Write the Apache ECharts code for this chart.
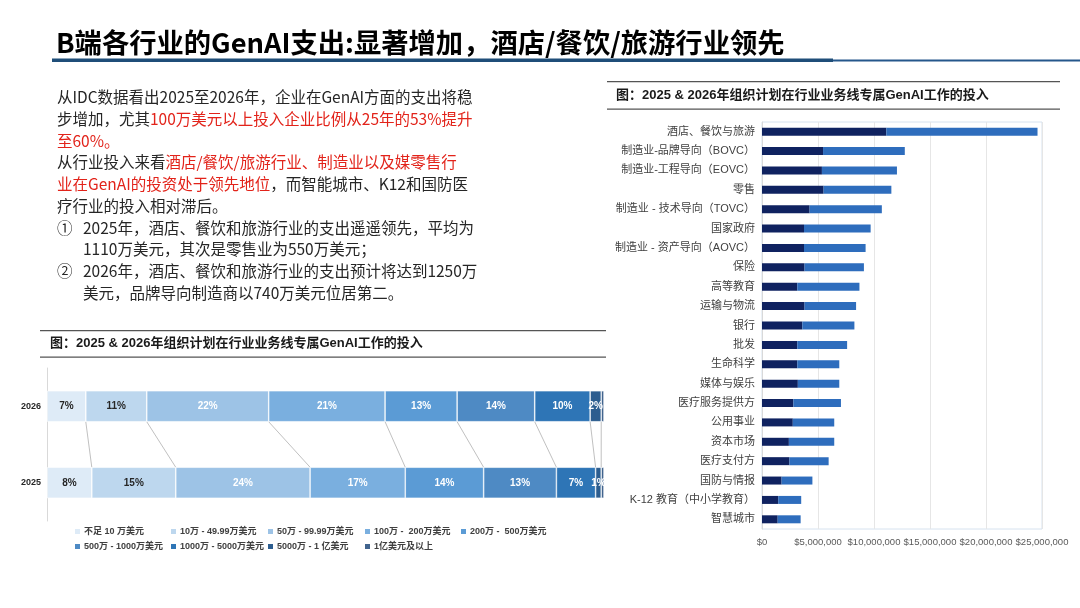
<!DOCTYPE html>
<html>
<head>
<meta charset="utf-8">
<title>B端各行业的GenAI支出</title>
<script src="https://cdn.jsdelivr.net/npm/echarts@6/dist/echarts.min.js"></script>
<style>
  html, body { margin: 0; padding: 0; background: #fff; }
  #main { width: 1080px; height: 608px; }
</style>
</head>
<body>
<div id="main"></div>
<script>
// ---- left chart: share of spend bands ----
var years = ['2025', '2026'];
var bands = ['不足 10 万美元', '10万 - 49.99万美元', '50万 - 99.99万美元', '100万 -  200万美元', '200万 -  500万美元',
  '500万 - 1000万美元', '1000万 - 5000万美元', '5000万 - 1 亿美元', '1亿美元及以上'];
var share2025 = [8, 15, 24, 17, 14, 13, 7, 1, 0.5];
var share2026 = [7, 11, 22, 21, 13, 14, 10, 2, 0.5];

// ---- right chart: spend per industry (USD) ----
var industries = ['酒店、餐饮与旅游', '制造业-品牌导向（BOVC）', '制造业-工程导向（EOVC）', '零售',
  '制造业 - 技术导向（TOVC）', '国家政府', '制造业 - 资产导向（AOVC）', '保险', '高等教育', '运输与物流',
  '银行', '批发', '生命科学', '媒体与娱乐', '医疗服务提供方', '公用事业', '资本市场', '医疗支付方',
  '国防与情报', 'K-12 教育（中小学教育）', '智慧城市'];
var spend2025 = [11100000, 5450000, 5350000, 5500000, 4250000, 3750000, 3750000, 3800000, 3150000, 3800000,
  3600000, 3150000, 3150000, 3200000, 2800000, 2750000, 2400000, 2450000, 1750000, 1450000, 1400000];
var spend2026 = [13500000, 7300000, 6700000, 6050000, 6450000, 5950000, 5500000, 5300000, 5550000, 4600000,
  4650000, 4450000, 3750000, 3700000, 4250000, 3700000, 4050000, 3500000, 2750000, 2050000, 2050000];
var xTicks = [0, 5000000, 10000000, 15000000, 20000000, 25000000];

var bandColors = ['#deebf7', '#bdd7ee', '#9dc3e6', '#7aafdf', '#5b9bd5', '#4e8ac4', '#2e75b6', '#2c5d8f', '#41648e'];
var chartFont = "'Liberation Sans', 'Noto Sans CJK SC', sans-serif";
var cjkFont = "'Noto Sans CJK SC', sans-serif";
var red = '#e2231a';
var barH = 31;

function sum(arr) {
  var s = 0;
  for (var i = 0; i < arr.length; i++) s += arr[i];
  return s;
}
var tot25 = sum(share2025);
var tot26 = sum(share2026);

// stacked band series (normalised to 100%)
var series = [];
bands.forEach(function (name, i) {
  series.push({
    name: name,
    type: 'bar',
    stack: 'share',
    xAxisIndex: 0,
    yAxisIndex: 0,
    barWidth: barH,
    itemStyle: { color: bandColors[i], borderColor: '#fff', borderWidth: 0.6 },
    label: {
      show: i < 8,
      position: 'inside',
      fontSize: 10,
      fontWeight: 'bold',
      fontFamily: chartFont,
      color: i < 2 ? '#262626' : '#fff',
      formatter: function (p) { return p.data.raw + '%'; }
    },
    data: [
      { value: share2025[i] / tot25 * 100, raw: share2025[i] },
      { value: share2026[i] / tot26 * 100, raw: share2026[i] }
    ]
  });
});

// series lines joining segment edges
var joins = [];
var c25 = 0, c26 = 0;
for (var i = 0; i < bands.length - 1; i++) {
  c25 += share2025[i] / tot25 * 100;
  c26 += share2026[i] / tot26 * 100;
  joins.push([c26, c25, 0]);
}
series.push({
  type: 'custom',
  xAxisIndex: 0,
  yAxisIndex: 0,
  encode: { x: [0, 1], y: 2 },
  silent: true,
  z: 1,
  renderItem: function (params, api) {
    var top = api.coord([api.value(0), 1]);
    var bot = api.coord([api.value(1), 0]);
    return {
      type: 'line',
      shape: { x1: top[0], y1: top[1] + barH / 2, x2: bot[0], y2: bot[1] - barH / 2 },
      style: { stroke: '#b0b0b0', lineWidth: 0.8 }
    };
  },
  data: joins
});

// right chart stacked bars
series.push({
  name: '2025',
  type: 'bar',
  stack: 'ind',
  xAxisIndex: 1,
  yAxisIndex: 1,
  barWidth: 8,
  itemStyle: { color: '#0f2260' },
  data: spend2025
});
series.push({
  name: '2026',
  type: 'bar',
  stack: 'ind',
  xAxisIndex: 1,
  yAxisIndex: 1,
  barWidth: 8,
  itemStyle: { color: '#2e6dbd' },
  data: spend2026
});

// legends laid out as a grid
var legendPos = [[73, 527], [169, 527], [266, 527], [363, 527], [459, 527],
  [73, 542], [169, 542], [266, 542], [363, 542]];
var legends = bands.map(function (b, i) {
  return {
    data: [b],
    left: legendPos[i][0],
    top: legendPos[i][1],
    padding: 0,
    itemWidth: 7,
    itemHeight: 7,
    itemGap: 0,
    icon: 'rect',
    selectedMode: false,
    textStyle: { fontSize: 9, fontWeight: 'bold', color: '#404040', fontFamily: chartFont, padding: [0, 0, 0, -2] }
  };
});

// slide text
function textLine(x, y, txt) {
  return {
    type: 'text',
    x: x,
    y: y,
    style: {
      text: txt,
      fill: '#262626',
      fontSize: 15.5,
      fontFamily: cjkFont,
      verticalAlign: 'middle',
      rich: { r: { fill: red, fontSize: 15.5, fontFamily: cjkFont } }
    }
  };
}
var bodyLines = [
  [57, '从IDC数据看出2025至2026年，企业在GenAI方面的支出将稳'],
  [57, '步增加，尤其{r|100万美元以上投入企业比例从25年的53%提升}'],
  [57, '{r|至60%。}'],
  [57, '从行业投入来看{r|酒店/餐饮/旅游行业、制造业以及媒零售行}'],
  [57, '{r|业在GenAI的投资处于领先地位}，而智能城市、K12和国防医'],
  [57, '疗行业的投入相对滞后。'],
  [83, '2025年，酒店、餐饮和旅游行业的支出遥遥领先，平均为'],
  [83, '1110万美元，其次是零售业为550万美元；'],
  [83, '2026年，酒店、餐饮和旅游行业的支出预计将达到1250万'],
  [83, '美元，品牌导向制造商以740万美元位居第二。']
];
var graphics = [];
bodyLines.forEach(function (l, i) {
  graphics.push(textLine(l[0], 97.5 + i * 21.7, l[1]));
});
graphics.push(textLine(57, 97.5 + 6 * 21.7, '①'));
graphics.push(textLine(57, 97.5 + 8 * 21.7, '②'));

graphics.push({
  type: 'text', x: 56, y: 43,
  style: { text: 'B端各行业的GenAI支出:显著增加，酒店/餐饮/旅游行业领先', fill: '#000', fontSize: 27.3,
    fontWeight: 'bold', fontFamily: cjkFont, verticalAlign: 'middle' }
});
graphics.push({ type: 'rect', shape: { x: 52, y: 58.5, width: 781, height: 3.5 }, style: { fill: '#1f4e79' } });
graphics.push({ type: 'rect', shape: { x: 833, y: 59.5, width: 247, height: 2 }, style: { fill: '#25578b' } });

// chart titles with rules
function chartTitle(x1, x2, yTop, yBot, tx) {
  graphics.push({ type: 'rect', shape: { x: x1, y: yTop, width: x2 - x1, height: 1.3 }, style: { fill: '#555' } });
  graphics.push({ type: 'rect', shape: { x: x1, y: yBot, width: x2 - x1, height: 1.3 }, style: { fill: '#555' } });
  graphics.push({
    type: 'text', x: tx, y: (yTop + yBot) / 2 + 0.5,
    style: { text: '图：2025 & 2026年组织计划在行业业务线专属GenAI工作的投入', fill: '#1a1a1a', fontSize: 13,
      fontWeight: 'bold', fontFamily: chartFont, verticalAlign: 'middle' }
  });
}
chartTitle(40, 606, 330, 356.5, 50);
chartTitle(607, 1060, 81, 108.5, 616);

var chart = echarts.init(document.getElementById('main'));
chart.setOption({
  animation: false,
  textStyle: { fontFamily: chartFont },
  legend: legends,
  grid: [
    { left: 47, width: 557, top: 368, height: 153 },
    { left: 762, width: 280, top: 122, height: 407, show: true, borderColor: '#d6e2ef', borderWidth: 1 }
  ],
  xAxis: [
    { type: 'value', gridIndex: 0, min: 0, max: 100, show: false },
    {
      type: 'value', gridIndex: 1, min: xTicks[0], max: xTicks[xTicks.length - 1], interval: xTicks[1] - xTicks[0],
      axisLine: { show: false }, axisTick: { show: false },
      splitLine: { lineStyle: { color: '#e6e6e6' } },
      axisLabel: {
        fontSize: 9.5, color: '#595959', margin: 9,
        formatter: function (v) { return '$' + v.toLocaleString('en-US'); }
      }
    }
  ],
  yAxis: [
    {
      type: 'category', gridIndex: 0, data: years,
      axisLine: { lineStyle: { color: '#d9d9d9' } },
      axisTick: { length: 4, lineStyle: { color: '#d9d9d9' } },
      axisLabel: { fontSize: 9, fontWeight: 'bold', color: '#262626', margin: 6 }
    },
    {
      type: 'category', gridIndex: 1, data: industries, inverse: true,
      axisLine: { lineStyle: { color: '#d9d9d9' } },
      axisTick: { show: false },
      axisLabel: { fontSize: 11, color: '#404040', margin: 7, interval: 0 }
    }
  ],
  graphic: graphics,
  series: series
});
</script>
</body>
</html>
